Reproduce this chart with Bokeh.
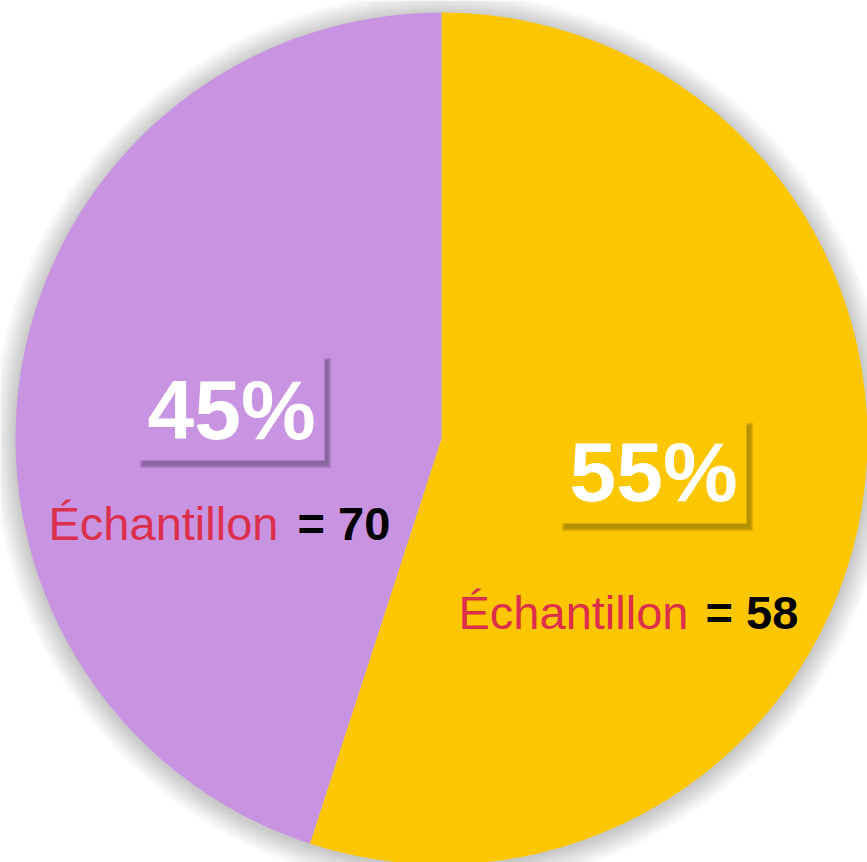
import numpy as np
from bokeh.plotting import figure
from bokeh.models import Range1d, ColumnDataSource
from bokeh.core.properties import value
from bokeh.embed import file_html
from bokeh.resources import INLINE

# ---- data ----
categories = ["Groupe A", "Groupe B"]
percents = [55, 45]
samples = [58, 70]
colors = ["#FCC700", "#C893E0"]
shadow_colors = ["#7A6000", "#5E3F70"]
sample_label = "Échantillon"

W, H = 867, 862
p = figure(width=W, height=H, output_backend="svg", toolbar_location=None,
           x_range=Range1d(0, W), y_range=Range1d(0, H), min_border=0)
p.axis.visible = False
p.grid.visible = False
p.outline_line_color = None
p.background_fill_color = "white"
p.border_fill_color = "white"

cx, cy, r = 441, H - 438, 426

# soft shadow around the pie
for i in range(18, 0, -1):
    p.circle(x=[cx], y=[cy - 2], radius=r + i * 1.3, fill_color="#000000",
             fill_alpha=0.011, line_color=None)

# wedges: start at 12 o'clock, clockwise
frac = np.array(percents, dtype=float) / sum(percents)
cum = np.concatenate([[0], np.cumsum(frac)])
start = np.pi / 2 - cum[:-1] * 2 * np.pi
end = np.pi / 2 - cum[1:] * 2 * np.pi
src = ColumnDataSource(dict(start=start, end=end, color=colors))
p.wedge(x=cx, y=cy, radius=r, start_angle="start", end_angle="end",
        direction="clock", fill_color="color", line_color=None, source=src)

# label layout (pixel positions, top-down)
pct_boxes = [(560, 420, 746, 523), (138, 355, 324, 460)]
pct_text_x = [569, 147]
pct_baseline = [502, 440]
samp_x = [458, 48]
eq_x = [705, 297]
samp_baseline = [629, 540]
PCT_SIZE, SAMP_SIZE = 84, 47
SHIFT = 0.36  # svg baseline compensation (fraction of font size)

for k in range(len(categories)):
    x0, y0, x1, y1 = pct_boxes[k]
    bx, by = (x0 + x1) / 2, H - (y0 + y1) / 2
    bw, bh = x1 - x0, y1 - y0
    for s in range(8, 0, -1):
        p.rect(x=[bx + 4], y=[by - 5], width=bw - 2 + s * 1.0, height=bh - 2 + s * 1.0,
               fill_color=shadow_colors[k], fill_alpha=0.09, line_color=None)
    p.rect(x=[bx], y=[by], width=bw, height=bh, fill_color=colors[k], line_color=None)
    p.text(x=[pct_text_x[k]], y=[H - pct_baseline[k] + SHIFT * PCT_SIZE],
           text=[f"{percents[k]}%"],
           text_font=value("Liberation Sans"), text_font_style="bold",
           text_font_size=f"{PCT_SIZE}px", text_color="white",
           text_align="left", text_baseline="alphabetic")
    p.text(x=[samp_x[k]], y=[H - samp_baseline[k] + SHIFT * SAMP_SIZE],
           text=[sample_label],
           text_font=value("Liberation Sans"), text_font_size=f"{SAMP_SIZE}px",
           text_color="#DC2F4C", text_align="left", text_baseline="alphabetic")
    p.text(x=[eq_x[k]], y=[H - samp_baseline[k] + SHIFT * SAMP_SIZE],
           text=[f"= {samples[k]}"],
           text_font=value("Liberation Sans"), text_font_style="bold",
           text_font_size=f"{SAMP_SIZE}px", text_color="black",
           text_align="left", text_baseline="alphabetic")

open("out.html", "w").write(file_html(p, INLINE))
